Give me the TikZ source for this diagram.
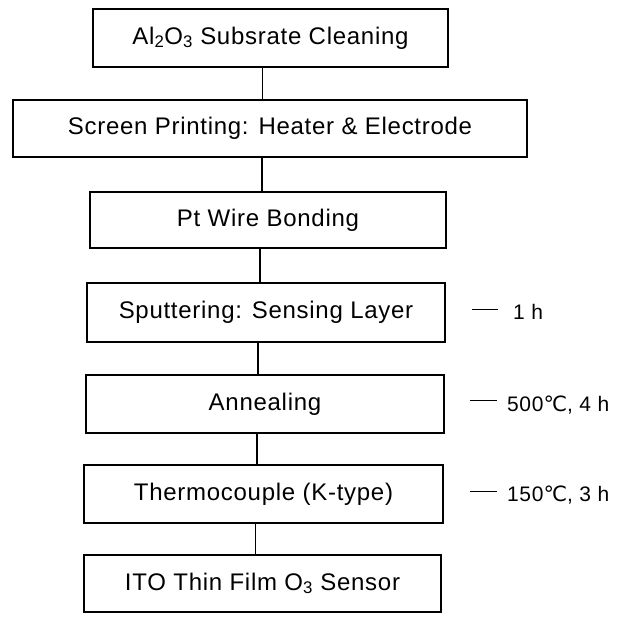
\documentclass[tikz,border=0pt]{standalone}
\usepackage{fontspec}
\setmainfont[LetterSpace=3]{Liberation Sans}
\newfontfamily\symfont{DejaVu Sans}
\usetikzlibrary{calc}
\begin{document}
\begin{tikzpicture}[x=1pt,y=-1pt,
  box/.style={draw, line width=1.1pt, inner sep=0pt, font=\fontsize{24}{28}\selectfont},
  lbl/.style={anchor=base west, inner sep=0pt, font=\fontsize{21}{24}\selectfont},
  conn/.style={line width=1.1pt}]
\useasboundingbox (0,0) rectangle (627,620);
\node[box, minimum width=355pt, minimum height=58pt] (b1) at (270.5,38) {Al\textsubscript{2}O\textsubscript{3} Subsrate Cleaning};
\node[box, minimum width=514pt, minimum height=57pt] (b2) at (270,128.5) {Screen Printing: Heater \& Electrode};
\node[box, minimum width=356pt, minimum height=56pt] (b3) at (268,220) {Pt Wire Bonding};
\node[box, minimum width=358pt, minimum height=59pt] (b4) at (266,312.5) {Sputtering: Sensing Layer};
\node[box, minimum width=358pt, minimum height=58pt] (b5) at (265,404) {Annealing};
\node[box, minimum width=359pt, minimum height=58pt] (b6) at (263.5,494) {Thermocouple (K-type)};
\node[box, minimum width=357pt, minimum height=57pt] (b7) at (262.5,583.5) {ITO Thin Film O\textsubscript{3} Sensor};
\foreach \a/\b in {b1/b2,b2/b3,b3/b4,b4/b5,b5/b6,b6/b7}
  \draw[conn] ([xshift=-8pt]\a.south) -- ([xshift=-8pt]\a.south |- \b.north);
\node[lbl] (l1) at (472,320) {\rule[10pt]{26pt}{1pt}\hspace{15pt}1 h};
\node[lbl] (l2) at (470,411.5) {\rule[10pt]{27pt}{1pt}\hspace{10pt}500{\symfont ℃}, 4 h};
\node[lbl] (l3) at (470,501.5) {\rule[10pt]{27pt}{1pt}\hspace{10pt}150{\symfont ℃}, 3 h};
\end{tikzpicture}
\end{document}
